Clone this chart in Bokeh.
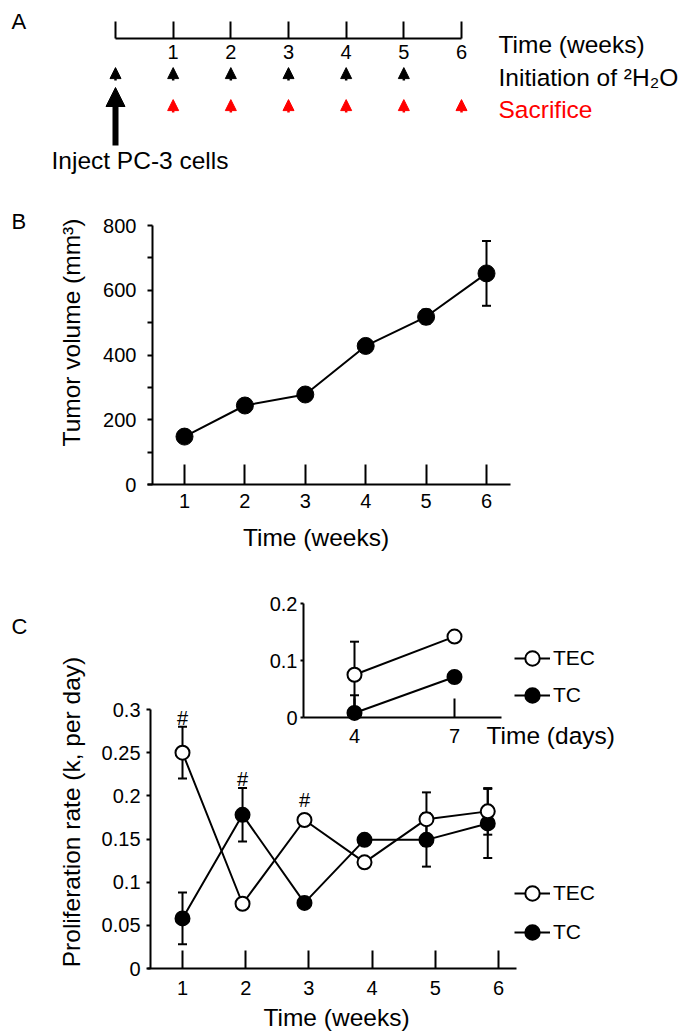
import math
from bokeh.plotting import figure
from bokeh.models import (Range1d, LinearAxis, FixedTicker, ColumnDataSource, Whisker, TeeHead,
                          Arrow, NormalHead, Label, Legend, LegendItem)
from bokeh.core.properties import value
from bokeh.embed import file_html
from bokeh.resources import INLINE

# ---------------- data ----------------
# Panel A (timeline)
timeline_weeks = [0, 1, 2, 3, 4, 5, 6]
timeline_labels = ["", "1", "2", "3", "4", "5", "6"]
initiation_weeks = [0, 1, 2, 3, 4, 5]
sacrifice_weeks = [1, 2, 3, 4, 5, 6]
inject_week = [0]

# Panel B (tumor volume)
b_weeks = [1, 2, 3, 4, 5, 6]
b_volume = [148, 244, 278, 428, 518, 652]
b_err = [10, 10, 10, 18, 22, 100]
b_xticks = [1, 2, 3, 4, 5, 6]
b_xtick_labels = ["1", "2", "3", "4", "5", "6"]
b_yticks = [0, 200, 400, 600, 800]
b_yticks_minor = [100, 300, 500, 700]
b_ytick_labels = ["0", "200", "400", "600", "800"]

# Panel C (proliferation rate, weeks)
c_weeks = [1, 1.95, 2.93, 3.88, 4.86, 5.83]
tec_rate = [0.250, 0.075, 0.172, 0.123, 0.173, 0.182]
tec_err = [0.030, 0.004, 0.004, 0.004, 0.031, 0.027]
tc_rate = [0.058, 0.178, 0.076, 0.149, 0.149, 0.168]
tc_err = [0.030, 0.031, 0.004, 0.004, 0.031, 0.040]
c_xticks = [1, 2, 3, 4, 5, 6]
c_xtick_labels = ["1", "2", "3", "4", "5", "6"]
c_yticks = [0, 0.05, 0.1, 0.15, 0.2, 0.25, 0.3]
c_ytick_labels = ["0", "0.05", "0.1", "0.15", "0.2", "0.25", "0.3"]
hash_x = [1, 1.95, 2.93]
hash_y = [0.2907, 0.220, 0.1946]
hash_text = ["#", "#", "#"]

# Inset (proliferation rate, days)
inset_days = [4, 7]
inset_tec = [0.075, 0.142]
inset_tec_err = [0.058, 0.003]
inset_tc = [0.008, 0.071]
inset_tc_err = [0.031, 0.003]
inset_xticks = [4, 7]
inset_xtick_labels = ["4", "7"]
inset_yticks = [0, 0.1, 0.2]
inset_ytick_labels = ["0", "0.1", "0.2"]

# ---------------- layout helpers ----------------
W, H = 688, 1036
FONT = "Liberation Sans"
BIG = "24.5px"
TICK = "20px"


def xr(v1, p1, v2, p2):
    s = (p2 - p1) / (v2 - v1)
    start = v1 - p1 / s
    return Range1d(start, start + W / s)


def yr(v1, p1, v2, p2):
    s = (p1 - p2) / (v2 - v1)
    end = v1 + p1 / s
    return Range1d(end - H / s, end)


def sx(x):
    return x


def sy(y):
    return H - y


p = figure(width=W, height=H, x_range=Range1d(0, W), y_range=Range1d(0, H),
           x_axis_type=None, y_axis_type=None, toolbar_location=None,
           output_backend="svg", min_border=0, outline_line_color=None)
p.min_border_left = p.min_border_right = p.min_border_top = p.min_border_bottom = 0
p.background_fill_color = "white"
p.border_fill_color = "white"

p.extra_x_ranges = {"ax": xr(0, 115, 6, 461), "bx": xr(1, 184, 6, 486),
                    "cx": xr(1, 182, 6, 498), "ix": xr(4, 354, 7, 454)}
p.extra_y_ranges = {"ay": yr(0, 105.5, 1, 73.5), "by": yr(0, 484, 800, 225),
                    "cy": yr(0, 968, 0.3, 709), "iy": yr(0, 717, 0.2, 603)}


def add_axis(side, xname, yname, loc, bounds, ticks, labels, tick_in, tick_out,
             standoff, minor=None):
    ax = LinearAxis(x_range_name=xname, y_range_name=yname, fixed_location=loc,
                    bounds=bounds, ticker=FixedTicker(ticks=ticks, minor_ticks=minor or []))
    ax.major_label_overrides = dict(zip(ticks, labels))
    ax.axis_line_width = 2
    ax.axis_line_color = "black"
    ax.major_tick_line_width = 2
    ax.major_tick_line_color = "black"
    ax.minor_tick_line_width = 2
    ax.minor_tick_line_color = "black"
    ax.major_tick_in = tick_in
    ax.major_tick_out = tick_out
    ax.minor_tick_in = 0
    ax.minor_tick_out = tick_out if minor else 0
    ax.major_label_standoff = standoff
    ax.major_label_text_font = FONT
    ax.major_label_text_font_size = TICK
    ax.major_label_text_color = "black"
    p.add_layout(ax, side)
    return ax


# ---------------- Panel A ----------------
INIT_ROW, SAC_ROW = 1, 0
TIMELINE_LOC = 2.109
add_axis("below", "ax", "ay", TIMELINE_LOC, (0, 6), timeline_weeks, timeline_labels, 17, 0, 6)

init_src = ColumnDataSource(dict(x=initiation_weeks,
                                 y0=[INIT_ROW - 0.2] * len(initiation_weeks),
                                 y1=[INIT_ROW + 0.2] * len(initiation_weeks)))
p.add_layout(Arrow(source=init_src, x_start="x", y_start="y0", x_end="x", y_end="y1",
                   x_range_name="ax", y_range_name="ay", line_width=2.5, line_color="black",
                   end=NormalHead(size=11, fill_color="black", line_color="black", line_width=1)))
sac_src = ColumnDataSource(dict(x=sacrifice_weeks,
                                y0=[SAC_ROW - 0.2] * len(sacrifice_weeks),
                                y1=[SAC_ROW + 0.2] * len(sacrifice_weeks)))
p.add_layout(Arrow(source=sac_src, x_start="x", y_start="y0", x_end="x", y_end="y1",
                   x_range_name="ax", y_range_name="ay", line_width=2.5, line_color="#ff0000",
                   end=NormalHead(size=11, fill_color="#ff0000", line_color="#ff0000", line_width=1)))
inj_src = ColumnDataSource(dict(x=inject_week, y0=[-1.234], y1=[0.578]))
p.add_layout(Arrow(source=inj_src, x_start="x", y_start="y0", x_end="x", y_end="y1",
                   x_range_name="ax", y_range_name="ay", line_width=6, line_color="black",
                   end=NormalHead(size=19, fill_color="black", line_color="black", line_width=1)))


def label(x, y, text, size=BIG, color="black", align="left", angle=0.0):
    # (x, y): left/centre edge and vertical centre of the capitals, in picture pixels
    p.add_layout(Label(x=sx(x), y=sy(y), x_units="screen", y_units="screen", text=text,
                       text_font=FONT, text_font_size=size, text_color=color,
                       text_align=align, text_baseline="middle", angle=angle))


label(11, 20.5, "A", size="22px")
label(498, 44, "Time (weeks)")
label(498, 77, "Initiation of \u00b2H\u2082O")
label(498, 109, "Sacrifice", color="#ff0000")
label(51, 160, "Inject PC-3 cells")

# ---------------- Panel B ----------------
label(11, 220.5, "B", size="22px")
add_axis("left", "bx", "by", 0.47, (0, 800), b_yticks, b_ytick_labels, 0, 5, 11, minor=b_yticks_minor)
add_axis("below", "bx", "by", 0, (0.39, 6.4), b_xticks, b_xtick_labels, 20, 0, 9)

b_src = ColumnDataSource(dict(x=b_weeks, y=b_volume,
                              upper=[v + e for v, e in zip(b_volume, b_err)],
                              lower=[v - e for v, e in zip(b_volume, b_err)]))
p.add_layout(Whisker(source=b_src, base="x", upper="upper", lower="lower", dimension="height",
                     x_range_name="bx", y_range_name="by", line_width=2, line_color="black",
                     upper_head=TeeHead(size=9, line_width=2, line_color="black"),
                     lower_head=TeeHead(size=9, line_width=2, line_color="black"),
                     level="underlay"))
p.line("x", "y", source=b_src, x_range_name="bx", y_range_name="by", line_width=2, line_color="black")
p.scatter("x", "y", source=b_src, x_range_name="bx", y_range_name="by", size=17,
          fill_color="black", line_color="black", line_width=1)
label(71, 332, "Tumor volume (mm\u00b3)", align="center", angle=math.pi / 2)
label(315.5, 536.5, "Time (weeks)", align="center")

# ---------------- Panel C ----------------
label(11, 625.5, "C", size="22px")
add_axis("left", "cx", "cy", 0.494, (0, 0.3), c_yticks, c_ytick_labels, 0, 4, 6)
add_axis("below", "cx", "cy", 0, (0.446, 6.285), c_xticks, c_xtick_labels, 18, 0, 12)


def series(xs, ys, errs, xname, yname):
    src = ColumnDataSource(dict(x=xs, y=ys,
                                upper=[v + e for v, e in zip(ys, errs)],
                                lower=[max(0.0, v - e) for v, e in zip(ys, errs)]))
    p.add_layout(Whisker(source=src, base="x", upper="upper", lower="lower", dimension="height",
                         x_range_name=xname, y_range_name=yname, line_width=2, line_color="black",
                         upper_head=TeeHead(size=9, line_width=2, line_color="black"),
                         lower_head=TeeHead(size=9, line_width=2, line_color="black"),
                         level="underlay"))
    ln = p.line("x", "y", source=src, x_range_name=xname, y_range_name=yname,
                line_width=2, line_color="black")
    return src, ln


def markers(src, xname, yname, filled):
    return p.scatter("x", "y", source=src, x_range_name=xname, y_range_name=yname, size=14,
                     fill_color="black" if filled else "white", line_color="black", line_width=2)


tec_src, tec_line = series(c_weeks, tec_rate, tec_err, "cx", "cy")
tc_src, tc_line = series(c_weeks, tc_rate, tc_err, "cx", "cy")
tc_pts = markers(tc_src, "cx", "cy", True)
tec_pts = markers(tec_src, "cx", "cy", False)

p.text(x=hash_x, y=hash_y, text=hash_text, x_range_name="cx", y_range_name="cy",
       text_font=value(FONT), text_font_size="20px", text_align="center",
       text_baseline="middle", text_color="black")

label(71, 811.5, "Proliferation rate (k, per day)", align="center", angle=math.pi / 2)
label(336, 1016.5, "Time (weeks)", align="center")

# ---------------- Inset ----------------
add_axis("left", "ix", "iy", 2.47, (0, 0.2), inset_yticks, inset_ytick_labels, 0, 3, 3)
add_axis("below", "ix", "iy", 0, (2.47, 8.41), inset_xticks, inset_xtick_labels, 19, 0, 11)

itec_src, itec_line = series(inset_days, inset_tec, inset_tec_err, "ix", "iy")
itc_src, itc_line = series(inset_days, inset_tc, inset_tc_err, "ix", "iy")
itc_pts = markers(itc_src, "ix", "iy", True)
itec_pts = markers(itec_src, "ix", "iy", False)
label(486, 735, "Time (days)")

# ---------------- Legends ----------------
def legend(items, loc, spacing):
    lg = Legend(items=items, location=loc, glyph_width=36, glyph_height=36, label_standoff=3,
                spacing=spacing, padding=0, margin=0, border_line_color=None,
                background_fill_alpha=0, label_text_font=FONT, label_text_font_size="21px",
                label_text_color="black", label_height=24)
    p.add_layout(lg)


legend([LegendItem(label="TEC", renderers=[itec_line, itec_pts]),
        LegendItem(label="TC", renderers=[itc_line, itc_pts])], (sx(514), sy(713)), 1)
legend([LegendItem(label="TEC", renderers=[tec_line, tec_pts]),
        LegendItem(label="TC", renderers=[tc_line, tc_pts])], (sx(514), sy(950)), 3)

open("out.html", "w").write(file_html(p, INLINE))
